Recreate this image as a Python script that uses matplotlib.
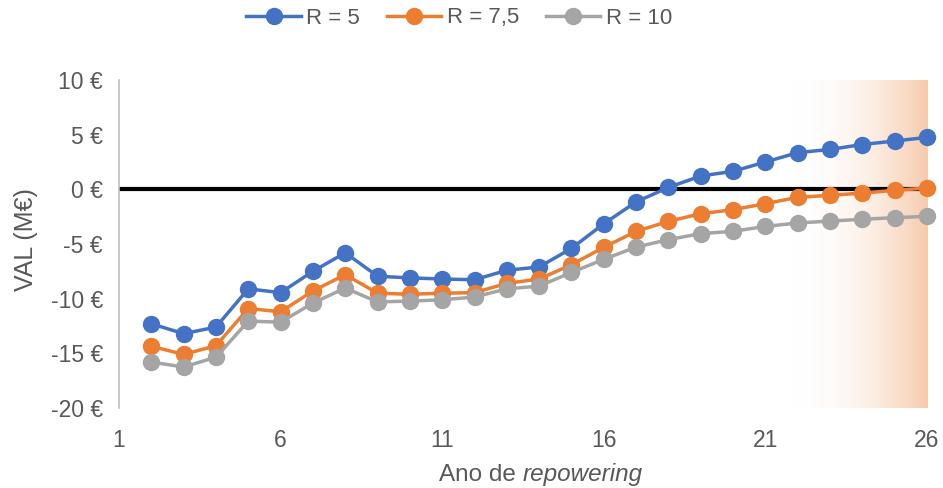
import numpy as np
import matplotlib
matplotlib.use("Agg")
import matplotlib.pyplot as plt
from matplotlib.colors import LinearSegmentedColormap
from matplotlib.ticker import FuncFormatter

plt.rcParams['font.family'] = ['Liberation Sans', 'DejaVu Sans']

years = list(range(2, 27))
val_r5 = [-12.3, -13.2, -12.6, -9.1, -9.45, -7.5, -5.8, -7.95, -8.1, -8.2, -8.27, -7.4,
          -7.1, -5.4, -3.15, -1.15, 0.18, 1.22, 1.65, 2.5, 3.36, 3.65, 4.1, 4.42, 4.75]
val_r75 = [-14.35, -15.1, -14.3, -10.9, -11.2, -9.3, -7.8, -9.5, -9.6, -9.5, -9.45, -8.6,
           -8.2, -6.9, -5.3, -3.84, -2.93, -2.23, -1.86, -1.31, -0.73, -0.55, -0.34, -0.09, 0.12]
val_r10 = [-15.8, -16.25, -15.35, -12.05, -12.15, -10.4, -9.03, -10.3, -10.22, -10.1, -9.85, -9.1,
           -8.85, -7.6, -6.4, -5.28, -4.6, -4.05, -3.84, -3.39, -3.08, -2.9, -2.74, -2.59, -2.47]
series_labels = ['R = 5', 'R = 7,5', 'R = 10']
series_colors = ['#4472C4', '#ED7D31', '#A5A5A5']
x_ticks = [1, 6, 11, 16, 21, 26]
y_ticks = [-20, -15, -10, -5, 0, 5, 10]
shade_start, shade_end = 21.85, 26

text_col = '#595959'

fig = plt.figure(figsize=(9.43, 4.88), dpi=100)
ax = fig.add_axes([119 / 943, 1 - 408 / 488, (927 - 119) / 943, (408 - 80) / 488])

ax.set_xlim(1, 26)
ax.set_ylim(-20, 10)

# gradient band over the last years
cmap = LinearSegmentedColormap.from_list('peach', [(1, 1, 1, 0), (0.969, 0.796, 0.675, 1)])
grad = np.linspace(0, 1, 256).reshape(1, -1)
ax.imshow(grad, cmap=cmap, aspect='auto', extent=[shade_start, shade_end, -20, 10],
          zorder=0, interpolation='bilinear')

ax.axhline(0, color='black', lw=3, zorder=1)

for vals, lab, col in zip([val_r5, val_r75, val_r10], series_labels, series_colors):
    ax.plot(years, vals, color=col, lw=2.5, marker='o', markersize=11.5,
            label=lab, zorder=3, clip_on=False)

ax.set_xticks(x_ticks)
ax.set_yticks(y_ticks)
ax.yaxis.set_major_formatter(FuncFormatter(lambda v, p: f"{int(v)} €"))
ax.tick_params(axis='both', length=0, labelsize=16.5, colors=text_col)
ax.tick_params(axis='x', pad=15)
ax.tick_params(axis='y', pad=11.5)

for s in ['top', 'right', 'bottom']:
    ax.spines[s].set_visible(False)
ax.spines['left'].set_color('#BFBFBF')
ax.spines['left'].set_linewidth(1.2)

fig.text(26 / 943, 1 - 240 / 488, 'VAL (M€)', fontsize=18, color=text_col,
         rotation=90, ha='center', va='center')

xc = (119 + 927) / 2 / 943
fig.text(xc, 1 - 481 / 488, 'Ano de ', fontsize=17.5, color=text_col,
         ha='right', va='baseline')
fig.text(xc, 1 - 481 / 488, 'repowering', fontsize=17.5, color=text_col,
         ha='left', va='baseline', style='italic')

leg = fig.legend(loc='center', bbox_to_anchor=(0.487, 1 - 18 / 488), ncol=3, frameon=False,
                 fontsize=16, handlelength=2.45, handletextpad=0.25, columnspacing=1.2,
                 borderaxespad=0)
for t in leg.get_texts():
    t.set_color(text_col)

fig.savefig('out.png', dpi=100)
